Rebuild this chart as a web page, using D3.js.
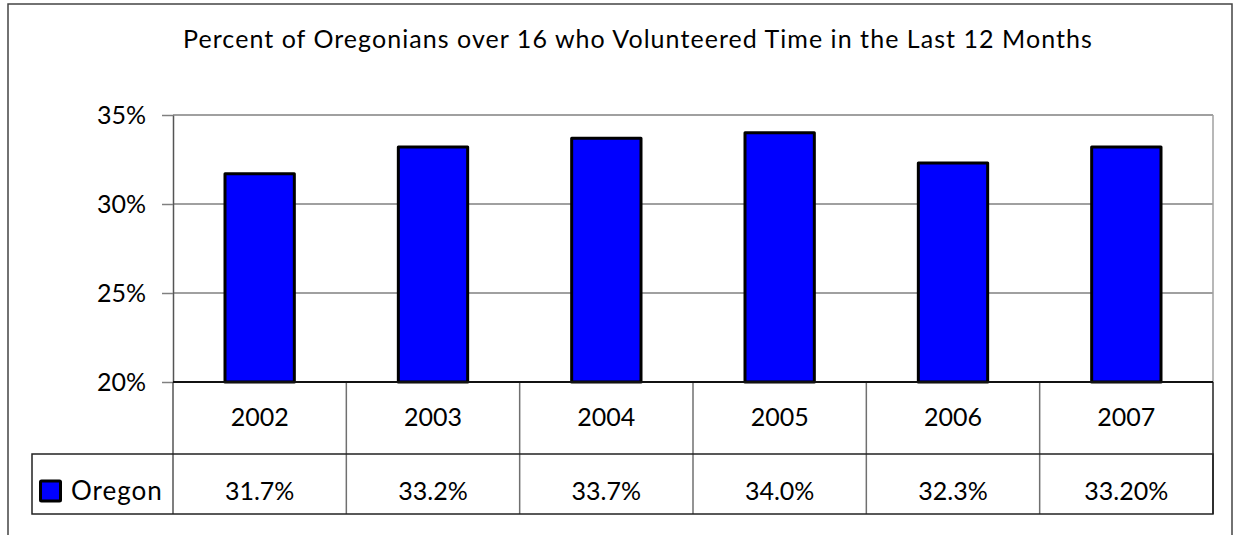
<!DOCTYPE html>
<html>
<head>
<meta charset="utf-8">
<script src="https://cdn.jsdelivr.net/npm/d3@7"></script>
<style>
  html, body { margin: 0; padding: 0; background: #fff; }
  svg { display: block; }
  text { font-family: Lato, "Open Sans", sans-serif; fill: #000; }
</style>
</head>
<body>
<script>
const title = "Percent of Oregonians over 16 who Volunteered Time in the Last 12 Months";
const years = ["2002", "2003", "2004", "2005", "2006", "2007"];
const oregon = [31.7, 33.2, 33.7, 34.0, 32.3, 33.2];
const oregonLabels = ["31.7%", "33.2%", "33.7%", "34.0%", "32.3%", "33.20%"];
const seriesName = "Oregon";
const yTicks = [20, 25, 30, 35];

const width = 1236, height = 535;
const plot = { left: 173, right: 1213, top: 115, bottom: 382 };
const rowH1 = 72, rowH2 = 60, legendLeft = 32;

const svg = d3.select("body").append("svg")
  .attr("width", width)
  .attr("height", height);

// outer chart border (bottom runs off the page)
svg.append("path")
  .attr("d", `M8,${height + 5}V4H1232V${height + 5}`)
  .attr("fill", "none")
  .attr("stroke", "#444")
  .attr("stroke-width", 1.5);

svg.append("text")
  .attr("x", 638)
  .attr("y", 48)
  .attr("text-anchor", "middle")
  .attr("font-size", 25)
  .attr("letter-spacing", 1.05)
  .text(title);

const x = d3.scaleBand()
  .domain(years)
  .range([plot.left, plot.right])
  .paddingInner(0.6)
  .paddingOuter(0.3);

const col = d3.scaleBand()
  .domain(years)
  .range([plot.left, plot.right]);

const y = d3.scaleLinear()
  .domain([20, 35])
  .range([plot.bottom, plot.top]);

// gridlines
svg.append("g")
  .selectAll("line")
  .data(yTicks.filter(d => d > 20))
  .join("line")
  .attr("x1", plot.left)
  .attr("x2", plot.right)
  .attr("y1", d => y(d))
  .attr("y2", d => y(d))
  .attr("stroke", "#808080")
  .attr("stroke-width", 1.5);

// right edge of plot area
svg.append("line")
  .attr("x1", plot.right).attr("x2", plot.right)
  .attr("y1", plot.top).attr("y2", plot.bottom)
  .attr("stroke", "#a0a0a0")
  .attr("stroke-width", 1.5);

// y axis
const yAxis = svg.append("g")
  .attr("transform", `translate(${plot.left},0)`)
  .call(d3.axisLeft(y)
    .tickValues(yTicks)
    .tickSize(11)
    .tickSizeOuter(0)
    .tickPadding(16)
    .tickFormat(d => d + "%"));
yAxis.select(".domain").attr("stroke", "#555").attr("stroke-width", 1.5);
yAxis.selectAll(".tick line").attr("stroke", "#808080").attr("stroke-width", 1.5);
yAxis.selectAll(".tick text")
  .attr("font-size", 25)
  .attr("font-family", "Lato, sans-serif")
  .attr("fill", "#000");

// bars
svg.append("g")
  .selectAll("rect")
  .data(years.map((yr, i) => ({ yr, v: oregon[i] })))
  .join("rect")
  .attr("x", d => x(d.yr))
  .attr("width", x.bandwidth())
  .attr("y", d => y(d.v))
  .attr("height", d => y(20) - y(d.v))
  .attr("fill", "#0000ff")
  .attr("stroke", "#000")
  .attr("stroke-width", 3)
  .attr("stroke-linejoin", "round");

// data table
const table = svg.append("g");
const r1 = plot.bottom, r2 = plot.bottom + rowH1, r3 = r2 + rowH2;

// column dividers
table.selectAll("line.col")
  .data(years.slice(1))
  .join("line")
  .attr("class", "col")
  .attr("x1", d => col(d)).attr("x2", d => col(d))
  .attr("y1", r1).attr("y2", r3)
  .attr("stroke", "#707070")
  .attr("stroke-width", 1.5);

table.append("line")
  .attr("x1", plot.left).attr("x2", plot.left)
  .attr("y1", plot.bottom).attr("y2", r3)
  .attr("stroke", "#555").attr("stroke-width", 1.5);

table.append("line")
  .attr("x1", plot.right).attr("x2", plot.right)
  .attr("y1", r1).attr("y2", r3)
  .attr("stroke", "#222").attr("stroke-width", 1.5);

// horizontal rules
table.append("line")
  .attr("x1", plot.left).attr("x2", plot.right)
  .attr("y1", r1).attr("y2", r1)
  .attr("stroke", "#111").attr("stroke-width", 2);
table.append("rect")
  .attr("x", legendLeft).attr("y", r2)
  .attr("width", plot.right - legendLeft).attr("height", rowH2)
  .attr("fill", "none")
  .attr("stroke", "#222").attr("stroke-width", 1.5);

table.selectAll("text.cat")
  .data(years)
  .join("text")
  .attr("class", "cat")
  .attr("x", d => col(d) + col.bandwidth() / 2)
  .attr("y", r1 + 44)
  .attr("text-anchor", "middle")
  .attr("font-size", 25)
  .text(d => d);

table.selectAll("text.val")
  .data(oregonLabels)
  .join("text")
  .attr("class", "val")
  .attr("x", (d, i) => col(years[i]) + col.bandwidth() / 2)
  .attr("y", r2 + 46)
  .attr("text-anchor", "middle")
  .attr("font-size", 25)
  .text(d => d);

// legend key
table.append("rect")
  .attr("x", 40.5).attr("y", r2 + 27)
  .attr("width", 20).attr("height", 20)
  .attr("fill", "#0000ff")
  .attr("stroke", "#000")
  .attr("stroke-width", 3)
  .attr("rx", 1);
table.append("text")
  .attr("x", 71)
  .attr("y", r2 + 46)
  .attr("font-size", 26)
  .attr("letter-spacing", 1)
  .text(seriesName);
</script>
</body>
</html>
